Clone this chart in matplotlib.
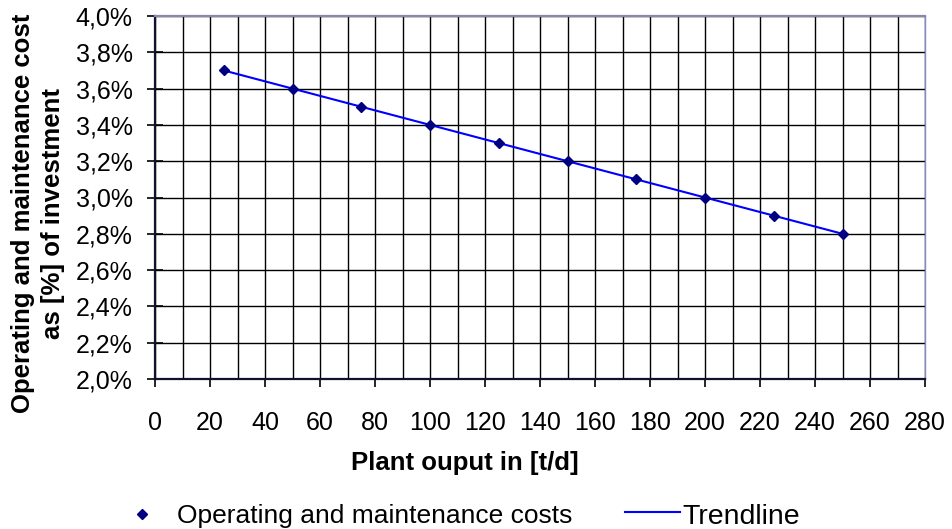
import matplotlib
matplotlib.use("Agg")
import matplotlib.pyplot as plt
from matplotlib.ticker import MultipleLocator, FuncFormatter
from matplotlib.lines import Line2D

plt.rcParams['font.family'] = ['Liberation Sans', 'DejaVu Sans']

plant_output = [25, 50, 75, 100, 125, 150, 175, 200, 225, 250]
om_cost_pct = [3.7, 3.6, 3.5, 3.4, 3.3, 3.2, 3.1, 3.0, 2.9, 2.8]
trend_x = plant_output
trend_y = om_cost_pct
legend_labels = ["Operating and maintenance costs", "Trendline"]

W, H = 952, 529
fig = plt.figure(figsize=(W / 100, H / 100), dpi=100)
L, R, T, B = 155, 925, 16, 379
ax = fig.add_axes([L / W, 1 - B / H, (R - L) / W, (B - T) / H])

ax.set_xlim(0, 280)
ax.set_ylim(2.0, 4.0)
ax.xaxis.set_major_locator(MultipleLocator(20))
ax.xaxis.set_minor_locator(MultipleLocator(10))
ax.yaxis.set_major_locator(MultipleLocator(0.2))
ax.yaxis.set_major_formatter(FuncFormatter(lambda v, p: f"{v:.1f}%".replace('.', ',')))

ax.grid(True, which='both', axis='x', color='black', linewidth=1.0)
ax.grid(True, which='major', axis='y', color='black', linewidth=1.0)
ax.set_axisbelow(True)

ax.plot(trend_x, trend_y, color='#0000ff', linewidth=1.5, zorder=3)
ax.plot(plant_output, om_cost_pct, linestyle='none', marker='D', markersize=5.5,
        color='#000080', zorder=4, clip_on=False)

for s in ['left', 'bottom']:
    ax.spines[s].set_color('#101030')
    ax.spines[s].set_linewidth(1.6)
ax.spines['top'].set_color('#8888a8')
ax.spines['top'].set_linewidth(1.6)
ax.spines['right'].set_color('#8888c8')
ax.spines['right'].set_linewidth(1.0)

ax.tick_params(axis='x', which='major', direction='out', length=6, width=1.2, pad=17, labelsize=18)
ax.tick_params(axis='x', which='minor', length=0)
ax.tick_params(axis='y', which='major', direction='inout', length=12, width=1.2, pad=10, labelsize=18)

fig.text(465 / W, 1 - 463 / H, "Plant ouput in [t/d]", fontsize=18.5, fontweight='bold',
         ha='center', va='center')
fig.text(38 / W, 1 - 213 / H, "Operating and maintenance cost\nas [%] of investment",
         fontsize=18.5, fontweight='bold', rotation=90, ha='center', va='center',
         multialignment='center', linespacing=1.3)

# legend (drawn manually in figure pixel coordinates)
fig.add_artist(Line2D([142 / W], [1 - 514 / H], marker='D', markersize=5, color='#000080',
                      linestyle='none', transform=fig.transFigure))
fig.text(177 / W, 1 - 523 / H, legend_labels[0], fontsize=19, ha='left', va='baseline')
fig.add_artist(Line2D([625 / W, 680 / W], [1 - 512 / H, 1 - 512 / H], color='#0000ff',
                      linewidth=1.5, transform=fig.transFigure))
fig.text(682 / W, 1 - 524 / H, legend_labels[1], fontsize=20.5, ha='left', va='baseline')

fig.savefig("out.png", dpi=100)
